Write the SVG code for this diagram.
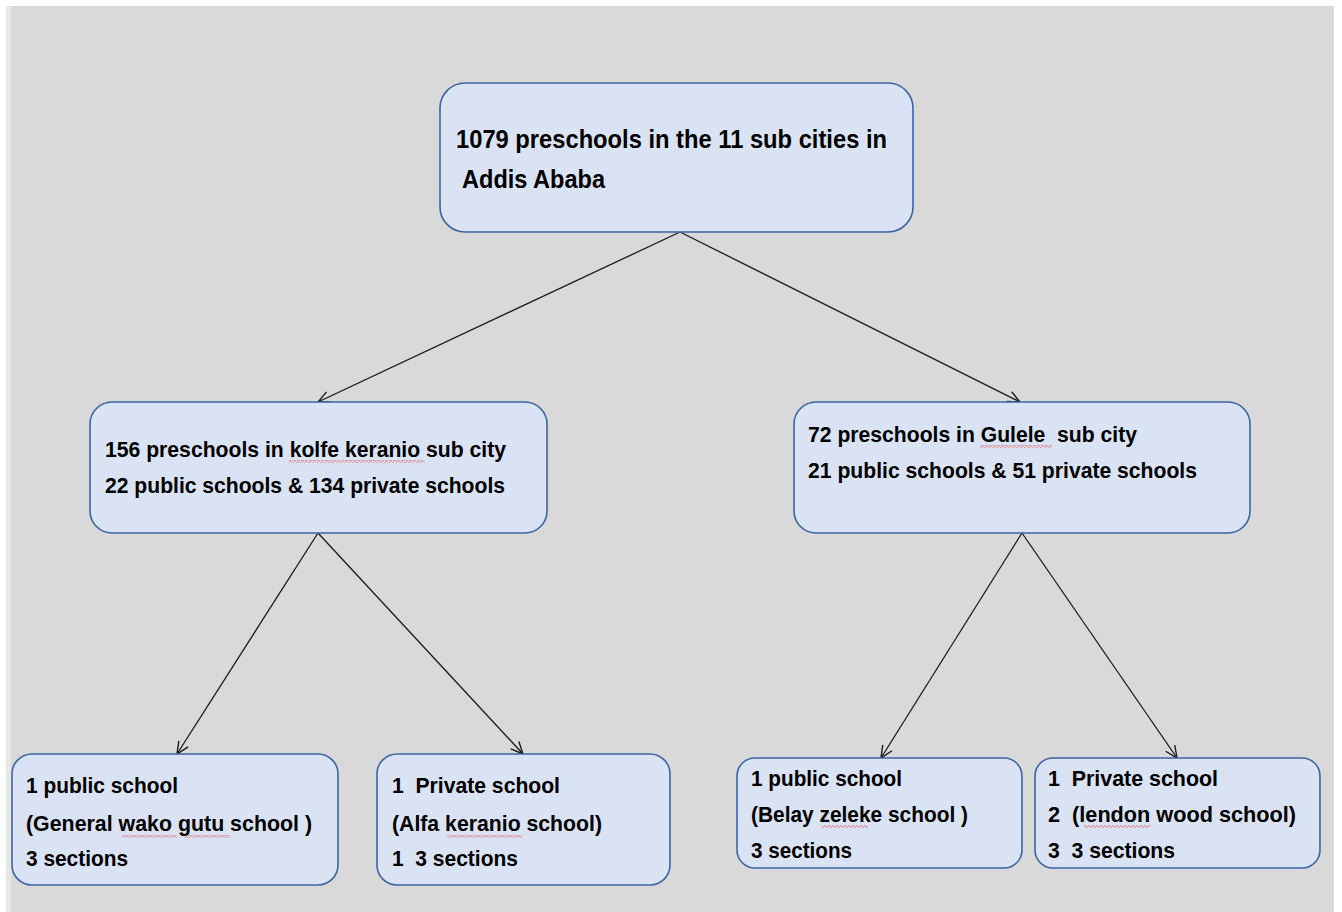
<svg xmlns="http://www.w3.org/2000/svg" width="1342" height="912" viewBox="0 0 1342 912">
<style>
.box{fill:#dae3f3;stroke:#3c64a4;stroke-width:1.6}
.t{font-family:"Liberation Sans",Arial,sans-serif;font-weight:bold;fill:#000}
.t1{font-size:25px}
.t2{font-size:22px}
.t3{font-size:22px}
.edge{stroke:#1a1a1a;stroke-width:1.3;fill:none;marker-end:url(#arr)}
.sq{fill:url(#squig)}
</style>
<defs>
<marker id="arr" markerUnits="userSpaceOnUse" markerWidth="14" markerHeight="14" viewBox="0 0 14 14" refX="13" refY="7" orient="auto">
<path d="M1,1.5 L13,7 L1,12.5" fill="none" stroke="#1a1a1a" stroke-width="1.4"/>
</marker>
<pattern id="squig" width="4" height="3" patternUnits="userSpaceOnUse">
<path d="M0,1.5 L1,0.5 L3,2.5 L4,1.5" fill="none" stroke="#e03030" stroke-width="0.8"/>
</pattern>
</defs>
<rect x="0" y="0" width="1342" height="912" fill="#ffffff"/>
<rect x="6" y="6" width="5" height="906" fill="#e6e6e6"/>
<rect x="11" y="6" width="1323" height="906" fill="#d9d9d9"/>

<g id="connectors">
<line class="edge" x1="680" y1="232" x2="318" y2="402"/>
<line class="edge" x1="680" y1="232" x2="1020" y2="402"/>
<line class="edge" x1="318" y1="533" x2="177" y2="754"/>
<line class="edge" x1="318" y1="533" x2="523" y2="754"/>
<line class="edge" x1="1022" y1="533" x2="881" y2="758"/>
<line class="edge" x1="1022" y1="533" x2="1177" y2="758"/>
</g>

<g id="node-top">
<rect class="box" x="440" y="83" width="473" height="149" rx="25"/>
<text class="t t1" x="456" y="148" textLength="431" lengthAdjust="spacingAndGlyphs">1079 preschools in the 11 sub cities in</text>
<text class="t t1" x="462" y="188" textLength="143" lengthAdjust="spacingAndGlyphs">Addis Ababa</text>
</g>

<g id="node-kolfe">
<rect class="box" x="90" y="402" width="457" height="131" rx="22"/>
<text class="t t2" x="105" y="457" textLength="401" lengthAdjust="spacingAndGlyphs">156 preschools in kolfe keranio sub city</text>
<text class="t t2" x="105" y="493" textLength="400" lengthAdjust="spacingAndGlyphs">22 public schools &amp; 134 private schools</text>
<rect class="sq" x="289" y="460" width="136" height="3"/>
</g>

<g id="node-gulele">
<rect class="box" x="794" y="402" width="456" height="131" rx="22"/>
<text class="t t2" x="808" y="442" textLength="329" lengthAdjust="spacingAndGlyphs" xml:space="preserve">72 preschools in Gulele  sub city</text>
<text class="t t2" x="808" y="478" textLength="389" lengthAdjust="spacingAndGlyphs">21 public schools &amp; 51 private schools</text>
<rect class="sq" x="980" y="445" width="72" height="3"/>
</g>

<g id="node-wako">
<rect class="box" x="12" y="754" width="326" height="131" rx="20"/>
<text class="t t3" x="26" y="793" textLength="152" lengthAdjust="spacingAndGlyphs">1 public school</text>
<text class="t t3" x="26" y="831" textLength="286" lengthAdjust="spacingAndGlyphs">(General wako gutu school )</text>
<text class="t t3" x="26" y="866" textLength="102" lengthAdjust="spacingAndGlyphs">3 sections</text>
<rect class="sq" x="122" y="835" width="55" height="3"/>
<rect class="sq" x="184" y="835" width="46" height="3"/>
</g>

<g id="node-alfa">
<rect class="box" x="377" y="754" width="293" height="131" rx="20"/>
<text class="t t3" x="392" y="793" textLength="168" lengthAdjust="spacingAndGlyphs" xml:space="preserve">1  Private school</text>
<text class="t t3" x="392" y="831" textLength="210" lengthAdjust="spacingAndGlyphs">(Alfa keranio school)</text>
<text class="t t3" x="392" y="866" textLength="126" lengthAdjust="spacingAndGlyphs" xml:space="preserve">1  3 sections</text>
<rect class="sq" x="447" y="835" width="75" height="3"/>
</g>

<g id="node-belay">
<rect class="box" x="737" y="758" width="285" height="110" rx="18"/>
<text class="t t3" x="751" y="786" textLength="151" lengthAdjust="spacingAndGlyphs">1 public school</text>
<text class="t t3" x="751" y="822" textLength="217" lengthAdjust="spacingAndGlyphs">(Belay zeleke school )</text>
<text class="t t3" x="751" y="858" textLength="101" lengthAdjust="spacingAndGlyphs">3 sections</text>
<rect class="sq" x="822" y="825" width="46" height="3"/>
</g>

<g id="node-lendon">
<rect class="box" x="1035" y="758" width="285" height="110" rx="18"/>
<text class="t t3" x="1048" y="786" textLength="170" lengthAdjust="spacingAndGlyphs" xml:space="preserve">1  Private school</text>
<text class="t t3" x="1048" y="822" textLength="248" lengthAdjust="spacingAndGlyphs" xml:space="preserve">2  (lendon wood school)</text>
<text class="t t3" x="1048" y="858" textLength="127" lengthAdjust="spacingAndGlyphs" xml:space="preserve">3  3 sections</text>
<rect class="sq" x="1084" y="825" width="66" height="3"/>
</g>
</svg>
